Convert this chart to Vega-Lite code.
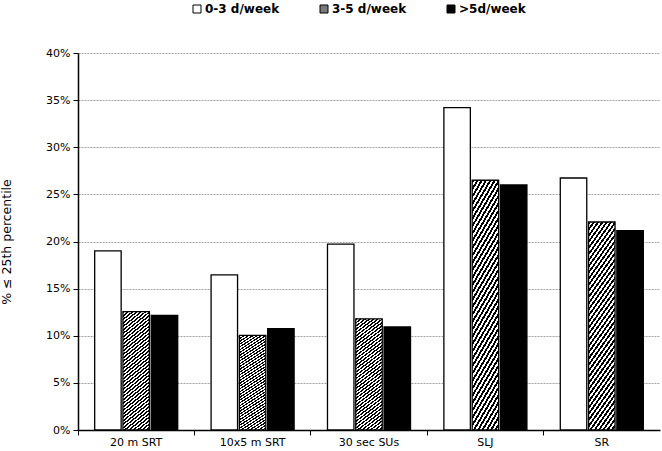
{
  "$schema": "https://vega.github.io/schema/vega-lite/v6.json",
  "autosize": {"type": "none"},
  "width": 582,
  "height": 377,
  "padding": {"left": 78, "top": 53, "right": 2, "bottom": 21},
  "background": "white",
  "data": {
    "values": [
      {"test": "20 m SRT", "freq": "0-3 d/week", "value": 0.190},
      {"test": "20 m SRT", "freq": "3-5 d/week", "value": 0.1255},
      {"test": "20 m SRT", "freq": ">5d/week", "value": 0.1217},
      {"test": "10x5 m SRT", "freq": "0-3 d/week", "value": 0.1645},
      {"test": "10x5 m SRT", "freq": "3-5 d/week", "value": 0.1005},
      {"test": "10x5 m SRT", "freq": ">5d/week", "value": 0.1075},
      {"test": "30 sec SUs", "freq": "0-3 d/week", "value": 0.1973},
      {"test": "30 sec SUs", "freq": "3-5 d/week", "value": 0.118},
      {"test": "30 sec SUs", "freq": ">5d/week", "value": 0.1093},
      {"test": "SLJ", "freq": "0-3 d/week", "value": 0.342},
      {"test": "SLJ", "freq": "3-5 d/week", "value": 0.265},
      {"test": "SLJ", "freq": ">5d/week", "value": 0.260},
      {"test": "SR", "freq": "0-3 d/week", "value": 0.2674},
      {"test": "SR", "freq": "3-5 d/week", "value": 0.2207},
      {"test": "SR", "freq": ">5d/week", "value": 0.2115}
    ]
  },
  "mark": {"type": "bar", "stroke": "#000000", "strokeWidth": 1.3},
  "encoding": {
    "x": {
      "field": "test",
      "type": "nominal",
      "sort": ["20 m SRT", "10x5 m SRT", "30 sec SUs", "SLJ", "SR"],
      "scale": {"paddingInner": 0, "paddingOuter": 0},
      "axis": {"title": null, "labelAngle": 0, "bandPosition": 0, "tickSize": 5, "labelPadding": 1, "grid": false}
    },
    "xOffset": {
      "field": "freq",
      "type": "nominal",
      "sort": ["0-3 d/week", "3-5 d/week", ">5d/week"],
      "scale": {"paddingInner": 0.064, "paddingOuter": 0.59}
    },
    "y": {
      "field": "value",
      "type": "quantitative",
      "scale": {"domain": [0, 0.4]},
      "axis": {
        "title": "% ≤ 25th percentile",
        "format": ".0%",
        "values": [0, 0.05, 0.1, 0.15, 0.2, 0.25, 0.3, 0.35, 0.4],
        "tickSize": 5,
        "labelPadding": 3,
        "titlePadding": 32,
        "titleFontSize": 12.5,
        "grid": true
      }
    },
    "fill": {
      "condition": {
        "test": "datum.freq === '3-5 d/week'",
        "value": {"gradient": "linear", "x1": 0, "y1": 0, "x2": 0.208, "y2": 1.144, "stops": [
            {"offset":0,"color":"#000"},{"offset":0.0125,"color":"#000"},{"offset":0.0125,"color":"#fff"},{"offset":0.025,"color":"#fff"},
            {"offset":0.025,"color":"#000"},{"offset":0.0375,"color":"#000"},{"offset":0.0375,"color":"#fff"},{"offset":0.05,"color":"#fff"},
            {"offset":0.05,"color":"#000"},{"offset":0.0625,"color":"#000"},{"offset":0.0625,"color":"#fff"},{"offset":0.075,"color":"#fff"},
            {"offset":0.075,"color":"#000"},{"offset":0.0875,"color":"#000"},{"offset":0.0875,"color":"#fff"},{"offset":0.1,"color":"#fff"},
            {"offset":0.1,"color":"#000"},{"offset":0.1125,"color":"#000"},{"offset":0.1125,"color":"#fff"},{"offset":0.125,"color":"#fff"},
            {"offset":0.125,"color":"#000"},{"offset":0.1375,"color":"#000"},{"offset":0.1375,"color":"#fff"},{"offset":0.15,"color":"#fff"},
            {"offset":0.15,"color":"#000"},{"offset":0.1625,"color":"#000"},{"offset":0.1625,"color":"#fff"},{"offset":0.175,"color":"#fff"},
            {"offset":0.175,"color":"#000"},{"offset":0.1875,"color":"#000"},{"offset":0.1875,"color":"#fff"},{"offset":0.2,"color":"#fff"},
            {"offset":0.2,"color":"#000"},{"offset":0.2125,"color":"#000"},{"offset":0.2125,"color":"#fff"},{"offset":0.225,"color":"#fff"},
            {"offset":0.225,"color":"#000"},{"offset":0.2375,"color":"#000"},{"offset":0.2375,"color":"#fff"},{"offset":0.25,"color":"#fff"},
            {"offset":0.25,"color":"#000"},{"offset":0.2625,"color":"#000"},{"offset":0.2625,"color":"#fff"},{"offset":0.275,"color":"#fff"},
            {"offset":0.275,"color":"#000"},{"offset":0.2875,"color":"#000"},{"offset":0.2875,"color":"#fff"},{"offset":0.3,"color":"#fff"},
            {"offset":0.3,"color":"#000"},{"offset":0.3125,"color":"#000"},{"offset":0.3125,"color":"#fff"},{"offset":0.325,"color":"#fff"},
            {"offset":0.325,"color":"#000"},{"offset":0.3375,"color":"#000"},{"offset":0.3375,"color":"#fff"},{"offset":0.35,"color":"#fff"},
            {"offset":0.35,"color":"#000"},{"offset":0.3625,"color":"#000"},{"offset":0.3625,"color":"#fff"},{"offset":0.375,"color":"#fff"},
            {"offset":0.375,"color":"#000"},{"offset":0.3875,"color":"#000"},{"offset":0.3875,"color":"#fff"},{"offset":0.4,"color":"#fff"},
            {"offset":0.4,"color":"#000"},{"offset":0.4125,"color":"#000"},{"offset":0.4125,"color":"#fff"},{"offset":0.425,"color":"#fff"},
            {"offset":0.425,"color":"#000"},{"offset":0.4375,"color":"#000"},{"offset":0.4375,"color":"#fff"},{"offset":0.45,"color":"#fff"},
            {"offset":0.45,"color":"#000"},{"offset":0.4625,"color":"#000"},{"offset":0.4625,"color":"#fff"},{"offset":0.475,"color":"#fff"},
            {"offset":0.475,"color":"#000"},{"offset":0.4875,"color":"#000"},{"offset":0.4875,"color":"#fff"},{"offset":0.5,"color":"#fff"},
            {"offset":0.5,"color":"#000"},{"offset":0.5125,"color":"#000"},{"offset":0.5125,"color":"#fff"},{"offset":0.525,"color":"#fff"},
            {"offset":0.525,"color":"#000"},{"offset":0.5375,"color":"#000"},{"offset":0.5375,"color":"#fff"},{"offset":0.55,"color":"#fff"},
            {"offset":0.55,"color":"#000"},{"offset":0.5625,"color":"#000"},{"offset":0.5625,"color":"#fff"},{"offset":0.575,"color":"#fff"},
            {"offset":0.575,"color":"#000"},{"offset":0.5875,"color":"#000"},{"offset":0.5875,"color":"#fff"},{"offset":0.6,"color":"#fff"},
            {"offset":0.6,"color":"#000"},{"offset":0.6125,"color":"#000"},{"offset":0.6125,"color":"#fff"},{"offset":0.625,"color":"#fff"},
            {"offset":0.625,"color":"#000"},{"offset":0.6375,"color":"#000"},{"offset":0.6375,"color":"#fff"},{"offset":0.65,"color":"#fff"},
            {"offset":0.65,"color":"#000"},{"offset":0.6625,"color":"#000"},{"offset":0.6625,"color":"#fff"},{"offset":0.675,"color":"#fff"},
            {"offset":0.675,"color":"#000"},{"offset":0.6875,"color":"#000"},{"offset":0.6875,"color":"#fff"},{"offset":0.7,"color":"#fff"},
            {"offset":0.7,"color":"#000"},{"offset":0.7125,"color":"#000"},{"offset":0.7125,"color":"#fff"},{"offset":0.725,"color":"#fff"},
            {"offset":0.725,"color":"#000"},{"offset":0.7375,"color":"#000"},{"offset":0.7375,"color":"#fff"},{"offset":0.75,"color":"#fff"},
            {"offset":0.75,"color":"#000"},{"offset":0.7625,"color":"#000"},{"offset":0.7625,"color":"#fff"},{"offset":0.775,"color":"#fff"},
            {"offset":0.775,"color":"#000"},{"offset":0.7875,"color":"#000"},{"offset":0.7875,"color":"#fff"},{"offset":0.8,"color":"#fff"},
            {"offset":0.8,"color":"#000"},{"offset":0.8125,"color":"#000"},{"offset":0.8125,"color":"#fff"},{"offset":0.825,"color":"#fff"},
            {"offset":0.825,"color":"#000"},{"offset":0.8375,"color":"#000"},{"offset":0.8375,"color":"#fff"},{"offset":0.85,"color":"#fff"},
            {"offset":0.85,"color":"#000"},{"offset":0.8625,"color":"#000"},{"offset":0.8625,"color":"#fff"},{"offset":0.875,"color":"#fff"},
            {"offset":0.875,"color":"#000"},{"offset":0.8875,"color":"#000"},{"offset":0.8875,"color":"#fff"},{"offset":0.9,"color":"#fff"},
            {"offset":0.9,"color":"#000"},{"offset":0.9125,"color":"#000"},{"offset":0.9125,"color":"#fff"},{"offset":0.925,"color":"#fff"},
            {"offset":0.925,"color":"#000"},{"offset":0.9375,"color":"#000"},{"offset":0.9375,"color":"#fff"},{"offset":0.95,"color":"#fff"},
            {"offset":0.95,"color":"#000"},{"offset":0.9625,"color":"#000"},{"offset":0.9625,"color":"#fff"},{"offset":0.975,"color":"#fff"},
            {"offset":0.975,"color":"#000"},{"offset":0.9875,"color":"#000"},{"offset":0.9875,"color":"#fff"},{"offset":1,"color":"#fff"}
          ]}
      },
      "field": "freq",
      "type": "nominal",
      "scale": {
        "domain": ["0-3 d/week", "3-5 d/week", ">5d/week"],
        "range": ["#ffffff", "#7a7a7a", "#000000"]
      },
      "legend": {
        "title": null,
        "orient": "none",
        "direction": "horizontal",
        "legendX": 113,
        "legendY": -50,
        "padding": 0,
        "columnPadding": 38,
        "symbolType": "square",
        "symbolSize": 64,
        "symbolStrokeColor": "#000000",
        "symbolStrokeWidth": 1,
        "labelOffset": 2,
        "labelFont": "DejaVu Sans",
        "labelFontSize": 12,
        "labelFontWeight": "bold",
        "labelColor": "#000000",
        "encode": {
          "symbols": {
            "update": {
              "stroke": {"value": "#000000"},
              "strokeWidth": {"value": 1},
              "fill": {"signal": "(datum.value === '3-5 d/week' || datum.label === '3-5 d/week') ? {gradient: 'linear', x1: 0, y1: 0, x2: 1, y2: 1, stops: [{offset: 0, color: '#fff'}, {offset: 0.38, color: '#fff'}, {offset: 0.38, color: '#000'}, {offset: 0.62, color: '#000'}, {offset: 0.62, color: '#fff'}, {offset: 1, color: '#fff'}]} : scale('fill', datum.value)"}
            }
          }
        }
      }
    }
  },
  "config": {
    "view": {"stroke": null},
    "axis": {
      "domainColor": "#000000",
      "domainWidth": 1.5,
      "tickColor": "#000000",
      "tickWidth": 1,
      "labelColor": "#000000",
      "labelFont": "DejaVu Sans",
      "labelFontSize": 11,
      "titleFont": "DejaVu Sans",
      "titleFontWeight": "normal",
      "titleColor": "#000000",
      "gridColor": "#8c8c8c",
      "gridDash": [2, 1],
      "gridWidth": 0.8
    }
  }
}
